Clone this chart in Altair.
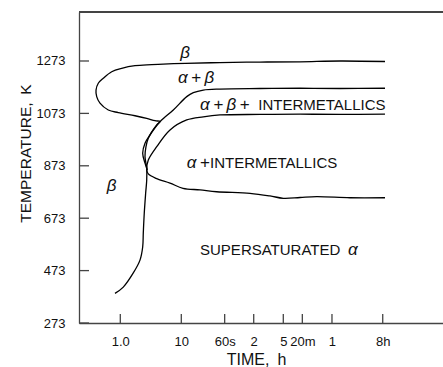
import altair as alt
import pandas as pd

# ---- axis ticks (x is a log-time coordinate: decades of seconds from 1 s) ----
xtick_vals = [0.0, 1.0, 1.711, 2.187, 2.672, 2.984, 3.470, 4.302]
xtick_labels = ["1.0", "10", "60s", "2", "5", "20m", "1", "8h"]
ytick_vals = [273, 473, 673, 873, 1073, 1273]

# ---- curves (t = log-time units, T = temperature K) ----
beta_t = [4.339, 3.602, 2.946, 2.290, 1.634, 1.070, 0.787, 0.515, 0.241, 0.023,
          -0.141, -0.279, -0.361, -0.398, -0.387, -0.333, -0.197, -0.033, 0.241, 0.433,
          0.569, 0.651, 0.597, 0.459, 0.421, 0.405, 0.433, 0.433, 0.416, 0.393,
          0.377, 0.367, 0.323, 0.213, 0.049, -0.087]
beta_T = [1271, 1273, 1270, 1269, 1267, 1264, 1262, 1259, 1255, 1245,
          1232, 1207, 1188, 1162, 1137, 1112, 1086, 1076, 1064, 1054,
          1045, 1042, 1029, 978, 946, 908, 863, 819, 769, 693,
          617, 563, 513, 464, 410, 386]

abim_t = [4.339, 3.602, 2.946, 2.290, 1.634, 1.361, 1.197, 1.089, 0.869, 0.651,
          0.487, 0.405, 0.367, 0.405, 0.443]
abim_T = [1169, 1168, 1169, 1168, 1166, 1162, 1152, 1137, 1086, 1041,
          991, 959, 921, 883, 857]

aim_t = [4.339, 3.602, 2.946, 2.290, 1.634, 1.361, 1.089, 0.815, 0.597, 0.459,
         0.433, 0.459, 0.585, 0.815, 1.028, 1.307, 1.580, 2.126, 2.454, 2.672,
         2.946, 3.220, 3.766, 4.339]
aim_T = [1070, 1069, 1070, 1069, 1067, 1060, 1048, 1010, 946, 895,
         857, 842, 825, 807, 787, 781, 774, 768, 758, 749,
         752, 755, 751, 751]

# ---- region labels ----
label_text = ["β", "α\u2009+\u2009β", "α\u2009+\u2009β\u2009+", "INTERMETALLICS",
              "α\u2009+", "INTERMETALLICS", "SUPERSATURATED", "α", "β"]
label_t = [0.982, 0.946, 1.307, 2.262, 1.089, 1.470, 1.307, 3.733, -0.223]
label_T = [1283, 1188, 1086, 1086, 863, 863, 533, 533, 776]
label_style = ["italic", "italic", "italic", "normal", "italic", "normal",
               "normal", "italic", "italic"]

XMIN, XMAX = -0.677, 5.29
YMIN, YMAX = 273, 1460
W, H = 364, 311
FONT = "Liberation Sans"
AXC = "#444"

rows = []
for name, ts, Ts in [("beta", beta_t, beta_T), ("abim", abim_t, abim_T), ("aim", aim_t, aim_T)]:
    for i, (a, b) in enumerate(zip(ts, Ts)):
        rows.append({"curve": name, "i": i, "t": a, "T": b})
curves = pd.DataFrame(rows)
labels = pd.DataFrame({"text": label_text, "t": label_t, "T": label_T, "style": label_style})
yt = pd.DataFrame({"T": ytick_vals})
xt = pd.DataFrame({"t": xtick_vals})

label_expr = " : ".join(
    f"abs(datum.value - {v}) < 0.01 ? '{l}'" for v, l in zip(xtick_vals, xtick_labels)
) + " : ''"

xscale = alt.Scale(domain=[XMIN, XMAX], nice=False, zero=False)
yscale = alt.Scale(domain=[YMIN, YMAX], nice=False, zero=False)

xenc = alt.X("t:Q", scale=xscale, axis=alt.Axis(
    values=xtick_vals, labelExpr=label_expr, ticks=False, tickSize=0, grid=False,
    domain=True, domainColor=AXC, domainWidth=1.3,
    labelFont=FONT, labelFontSize=13, labelColor="#111", labelPadding=12,
    labelFlush=False, labelOverlap=False,
    title="TIME,\u2002h", titleFont=FONT, titleFontSize=16, titleFontWeight="normal",
    titleColor="#111", titleX=177, titleY=41, titleBaseline="alphabetic",
    titleAlign="center", titleAnchor="start"))
yenc = alt.Y("T:Q", scale=yscale, axis=alt.Axis(
    values=ytick_vals, format="d", ticks=False, tickSize=0, grid=False,
    domain=True, domainColor=AXC, domainWidth=1.3,
    labelFont=FONT, labelFontSize=13, labelColor="#111", labelPadding=14,
    labelOverlap=False,
    title="TEMPERATURE,\u2002K", titleFont=FONT, titleFontSize=15.5, titleFontWeight="normal",
    titleColor="#111", titleX=-49, titleY=141, titleBaseline="alphabetic",
    titleAlign="center", titleAnchor="start", titleAngle=270))

lines = alt.Chart(curves).mark_line(color="black", strokeWidth=1.3, interpolate="catmull-rom"
                                    ).encode(x=xenc, y=yenc, detail="curve:N", order="i:Q")

texts_it = alt.Chart(labels).transform_filter("datum.style == 'italic'").mark_text(
    font=FONT, fontSize=17, align="left", baseline="alphabetic", color="#111",
    fontStyle="italic").encode(x=xenc, y=yenc, text="text:N")
texts_up = alt.Chart(labels).transform_filter("datum.style == 'normal'").mark_text(
    font=FONT, fontSize=15, align="left", baseline="alphabetic", color="#111"
    ).encode(x=xenc, y=yenc, text="text:N")

yticks = alt.Chart(yt).mark_rule(color=AXC, strokeWidth=1.3).encode(
    y=yenc, x=alt.value(0), x2=alt.value(10))
xticks = alt.Chart(xt).mark_rule(color=AXC, strokeWidth=1.3).encode(
    x=xenc, y=alt.value(H), y2=alt.value(H - 9))
topline = alt.Chart(yt).mark_rule(color=AXC, strokeWidth=1.3).encode(
    x=alt.value(0), x2=alt.value(W), y=alt.value(0))

chart = alt.layer(lines, yticks, xticks, topline, texts_it, texts_up).properties(
    width=W, height=H,
    autosize=alt.AutoSizeParams(type="none"),
    padding={"left": 79, "top": 12, "right": 0, "bottom": 44},
).configure_view(stroke=None).configure(background="white")

chart.save("out.html", embed_options={"renderer": "svg", "actions": False})
